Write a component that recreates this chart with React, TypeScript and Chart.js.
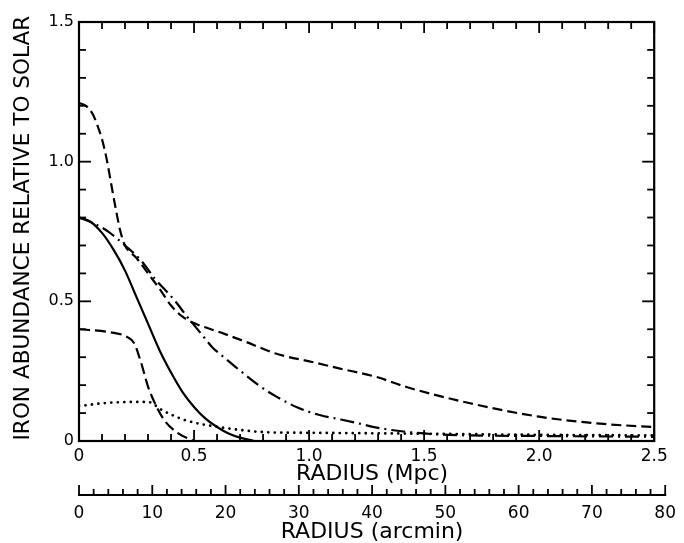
import React, { useEffect, useRef } from "react";
import { Chart, registerables } from "chart.js";

Chart.register(...registerables);

// ---- data (radius in Mpc, iron abundance relative to solar) ----
const DASH_HI_R = [0, 0.03, 0.06, 0.08, 0.1, 0.12, 0.14, 0.16, 0.18, 0.2, 0.25, 0.3, 0.35, 0.4, 0.45, 0.5, 0.61, 0.725, 0.855, 1.013, 1.13, 1.29, 1.42, 1.7, 2.0, 2.28, 2.5];
const DASH_HI_FE = [1.21, 1.2, 1.17, 1.13, 1.08, 1.01, 0.92, 0.83, 0.75, 0.7, 0.655, 0.6, 0.545, 0.485, 0.445, 0.422, 0.39, 0.355, 0.313, 0.283, 0.26, 0.23, 0.194, 0.135, 0.087, 0.061, 0.05];

const DASHDOT_R = [0, 0.07, 0.13, 0.2, 0.27, 0.33, 0.415, 0.47, 0.53, 0.58, 0.63, 0.7, 0.78, 0.86, 0.95, 1.05, 1.12, 1.2, 1.3, 1.42, 1.55, 1.7, 2.0, 2.5];
const DASHDOT_FE = [0.8, 0.777, 0.748, 0.7, 0.646, 0.581, 0.504, 0.445, 0.385, 0.335, 0.3, 0.252, 0.2, 0.158, 0.12, 0.092, 0.08, 0.066, 0.047, 0.033, 0.024, 0.02, 0.018, 0.015];

const SOLID_R = [0, 0.05, 0.1, 0.15, 0.2, 0.25, 0.3, 0.35, 0.4, 0.45, 0.5, 0.55, 0.6, 0.65, 0.7, 0.76];
const SOLID_FE = [0.8, 0.785, 0.745, 0.685, 0.61, 0.515, 0.42, 0.325, 0.245, 0.175, 0.122, 0.08, 0.05, 0.027, 0.012, 0.0];

const DASH_LO_R = [0, 0.13, 0.21, 0.24, 0.27, 0.3, 0.33, 0.37, 0.43, 0.5];
const DASH_LO_FE = [0.4, 0.39, 0.372, 0.35, 0.28, 0.195, 0.135, 0.075, 0.028, 0.0];

const DOT_R = [0, 0.13, 0.3, 0.36, 0.46, 0.6, 0.82, 0.9, 1.2, 1.5, 2.0, 2.5];
const DOT_FE = [0.125, 0.137, 0.14, 0.111, 0.075, 0.051, 0.031, 0.03, 0.028, 0.026, 0.022, 0.02];

// ---- axes ----
const MPC_LABELS = [0, 0.5, 1.0, 1.5, 2.0, 2.5];
const FE_LABELS = [0, 0.5, 1.0, 1.5];
const ARCMIN_LABELS = [0, 10, 20, 30, 40, 50, 60, 70, 80];
const MPC_MIN = 0;
const MPC_MAX = 2.5;
const FE_MIN = 0;
const FE_MAX = 1.5;
const ARCMIN_MAX = 80;
const ARCMIN_PER_MPC = 31.4;

const FONT = "'DejaVu Sans', sans-serif";

const pts = (r: number[], fe: number[]) => r.map((v, i) => ({ x: v, y: fe[i] }));

const framePlugin = {
  id: "frame",
  afterDatasetsDraw(chart: any) {
    const { ctx } = chart;
    const x = chart.scales.x;
    const y = chart.scales.y;
    const x2 = chart.scales.x2;
    const xl = x.getPixelForValue(MPC_MIN);
    const xr = x.getPixelForValue(MPC_MAX);
    const yb = y.getPixelForValue(FE_MIN);
    const yt = y.getPixelForValue(FE_MAX);
    ctx.save();
    ctx.strokeStyle = "#000";
    ctx.setLineDash([]);
    ctx.lineCap = "butt";
    const line = (a: number, b: number, c: number, d: number, w: number) => {
      ctx.lineWidth = w;
      ctx.beginPath();
      ctx.moveTo(a, b);
      ctx.lineTo(c, d);
      ctx.stroke();
    };
    // frame
    ctx.lineWidth = 2.2;
    ctx.strokeRect(xl, yt, xr - xl, yb - yt);
    // Mpc ticks (inward, bottom and top)
    for (let i = 0; i <= 25; i++) {
      const px = x.getPixelForValue(i * 0.1);
      const major = i % 5 === 0;
      const len = major ? 11 : 7;
      line(px, yb, px, yb - len, 1.8);
      line(px, yt, px, yt + len, 1.8);
    }
    // Fe ticks (inward, left and right)
    for (let i = 0; i <= 15; i++) {
      const py = y.getPixelForValue(i * 0.1);
      const major = i % 5 === 0;
      const len = major ? 12 : 7;
      line(xl, py, xl + len, py, 1.8);
      line(xr, py, xr - len, py, 1.8);
    }
    // arcmin axis
    const ya = x2.top;
    line(x2.getPixelForValue(0) - 1, ya, x2.getPixelForValue(ARCMIN_MAX) + 1, ya, 2.2);
    for (let a = 0; a <= ARCMIN_MAX; a += 2) {
      const px = x2.getPixelForValue(a);
      const len = a % 10 === 0 ? 10 : 6;
      line(px, ya, px, ya - len, 1.8);
    }
    ctx.restore();
  },
};

export default function App() {
  const ref = useRef<HTMLCanvasElement | null>(null);
  useEffect(() => {
    if (!ref.current) return;
    const common = {
      borderColor: "#000",
      backgroundColor: "#000",
      borderWidth: 2.2,
      pointRadius: 0,
      fill: false,
      cubicInterpolationMode: "monotone" as const,
    };
    const chart = new Chart(ref.current, {
      type: "line",
      data: {
        datasets: [
          { ...common, data: pts(DASH_HI_R, DASH_HI_FE), borderDash: [10, 5] },
          { ...common, data: pts(DASHDOT_R, DASHDOT_FE), borderDash: [14, 5, 2, 5] },
          { ...common, data: pts(SOLID_R, SOLID_FE) },
          { ...common, data: pts(DASH_LO_R, DASH_LO_FE), borderDash: [11, 5] },
          { ...common, data: pts(DOT_R, DOT_FE), borderDash: [0, 6.5], borderCapStyle: "round", borderWidth: 2.8 },
        ] as any,
      },
      options: {
        animation: false,
        responsive: false,
        devicePixelRatio: 1,
        layout: { padding: { top: 22, right: 16, bottom: 0, left: 0 } },
        plugins: { legend: { display: false }, tooltip: { enabled: false } },
        scales: {
          x: {
            type: "linear",
            position: "bottom",
            weight: 0,
            min: MPC_MIN,
            max: ARCMIN_MAX / ARCMIN_PER_MPC,
            grid: { display: false, drawTicks: false },
            border: { display: false },
            afterBuildTicks: (s: any) => {
              s.ticks = MPC_LABELS.map((v) => ({ value: v }));
            },
            afterFit: (s: any) => {
              s.height = 54;
            },
            ticks: {
              autoSkip: false,
              maxRotation: 0,
              padding: 5,
              color: "#000",
              font: { family: FONT, size: 17 },
              callback: (v: any) => (Number(v) === 0 ? "0" : Number(v).toFixed(1)),
            },
            title: {
              display: true,
              text: "RADIUS (Mpc)",
              color: "#000",
              font: { family: FONT, size: 22, lineHeight: 1 },
              padding: { top: 0, bottom: 10 },
            },
          },
          x2: {
            type: "linear",
            position: "bottom",
            weight: 1,
            min: 0,
            max: ARCMIN_MAX,
            grid: { display: false, drawTicks: false },
            border: { display: false },
            afterBuildTicks: (s: any) => {
              s.ticks = ARCMIN_LABELS.map((v) => ({ value: v }));
            },
            afterFit: (s: any) => {
              s.height = 48;
            },
            ticks: {
              autoSkip: false,
              maxRotation: 0,
              padding: 8,
              color: "#000",
              font: { family: FONT, size: 17 },
              callback: (v: any) => String(v),
            },
            title: {
              display: true,
              text: "RADIUS (arcmin)",
              color: "#000",
              font: { family: FONT, size: 22, lineHeight: 1 },
              padding: { top: 0, bottom: 0 },
            },
          },
          y: {
            type: "linear",
            position: "left",
            min: FE_MIN,
            max: FE_MAX,
            grid: { display: false, drawTicks: false },
            border: { display: false },
            afterBuildTicks: (s: any) => {
              s.ticks = FE_LABELS.map((v) => ({ value: v }));
            },
            afterFit: (s: any) => {
              s.width = 79;
            },
            ticks: {
              padding: 5,
              color: "#000",
              font: { family: FONT, size: 16 },
              callback: (v: any) => (Number(v) === 0 ? "0" : Number(v).toFixed(1)),
            },
            title: {
              display: true,
              text: " IRON ABUNDANCE RELATIVE TO SOLAR",
              color: "#000",
              font: { family: FONT, size: 21.6, lineHeight: 1 },
              padding: { top: 13, bottom: 0 },
            },
          },
        },
      },
      plugins: [framePlugin],
    });
    return () => chart.destroy();
  }, []);
  return (
    <div style={{ position: "fixed", left: 0, top: 0, width: 684, height: 543, background: "#fff" }}>
      <canvas ref={ref} width={684} height={543} />
    </div>
  );
}
